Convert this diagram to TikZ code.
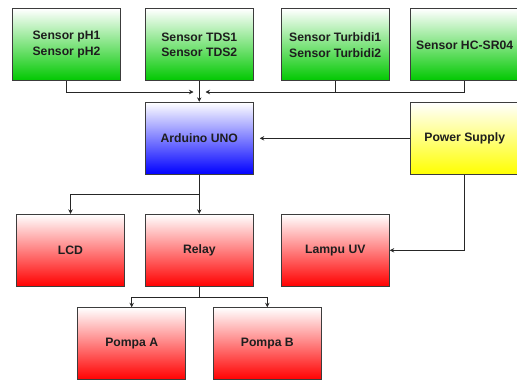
\documentclass[tikz,border=0pt]{standalone}
\usepackage{fontspec}
\setmainfont{Liberation Sans}
\usetikzlibrary{arrows.meta}
\definecolor{gbot}{RGB}{0,200,0}
\definecolor{bbot}{RGB}{0,0,255}
\definecolor{rbot}{RGB}{255,0,0}
\definecolor{ybot}{RGB}{255,255,0}
\definecolor{edge}{RGB}{60,60,60}
\definecolor{txt}{RGB}{30,30,30}
\tikzset{
  blk/.style={draw=edge, line width=0.9pt, minimum width=108pt, minimum height=72pt,
    inner sep=0pt, align=center, text=txt,
    font=\fontsize{12.2}{15.7}\selectfont\bfseries, top color=white},
  gbox/.style={blk, bottom color=gbot},
  bbox/.style={blk, bottom color=bbot},
  rbox/.style={blk, bottom color=rbot},
  ybox/.style={blk, bottom color=ybot},
  conn/.style={draw=black!85, line width=0.8pt},
  arr/.style={conn, -{Stealth[length=4.5pt,width=4.5pt,inset=1.5pt]}}
}
\begin{document}
\begin{tikzpicture}[x=1pt,y=-1pt]
\useasboundingbox (0,0) rectangle (517,383);
\clip (0,0) rectangle (517,383);
\node[gbox] (ph)  at (66.5,44.8)  {Sensor pH1\\Sensor pH2};
\node[gbox] (tds) at (199.3,44.8) {Sensor TDS1\\Sensor TDS2};
\node[gbox] (tur) at (335.2,44.8) {Sensor Turbidi1\\Sensor Turbidi2};
\node[gbox] (hc)  at (464.7,44.8) {Sensor HC-SR04};
\node[bbox] (ard) at (199.3,138.3) {Arduino UNO};
\node[ybox] (ps)  at (464.7,138.3) {Power Supply};
\node[rbox] (lcd) at (70.5,250.3) {LCD};
\node[rbox] (rel) at (199.3,250.3) {Relay};
\node[rbox] (uv)  at (335.3,250.3) {Lampu UV};
\node[rbox] (pa)  at (131.7,343.7) {Pompa A};
\node[rbox] (pb)  at (267.3,343.7) {Pompa B};
\coordinate (jl) at (193.5,92);
\coordinate (jr) at (205.5,92);
\coordinate (jb) at (199.3,194);
\coordinate (jp) at (199.3,297);
\draw[arr] (ph.south) |- (jl);
\draw[arr] (tds.south) -- (ard.north);
\draw[arr] (hc.south) |- (jr);
\draw[conn] (tur.south) -- (tur.south |- jr);
\draw[arr, shorten >=6pt] (ps.west) -- (ard.east);
\draw[conn] (ard.south) -- (jb);
\draw[arr] (jb) -| (lcd.north);
\draw[arr] (jb) -- (rel.north);
\draw[arr] (ps.south) |- (uv.east);
\draw[conn] (rel.south) -- (jp);
\draw[arr] (jp) -| (pa.north);
\draw[arr] (jp) -| (pb.north);
\end{tikzpicture}
\end{document}
